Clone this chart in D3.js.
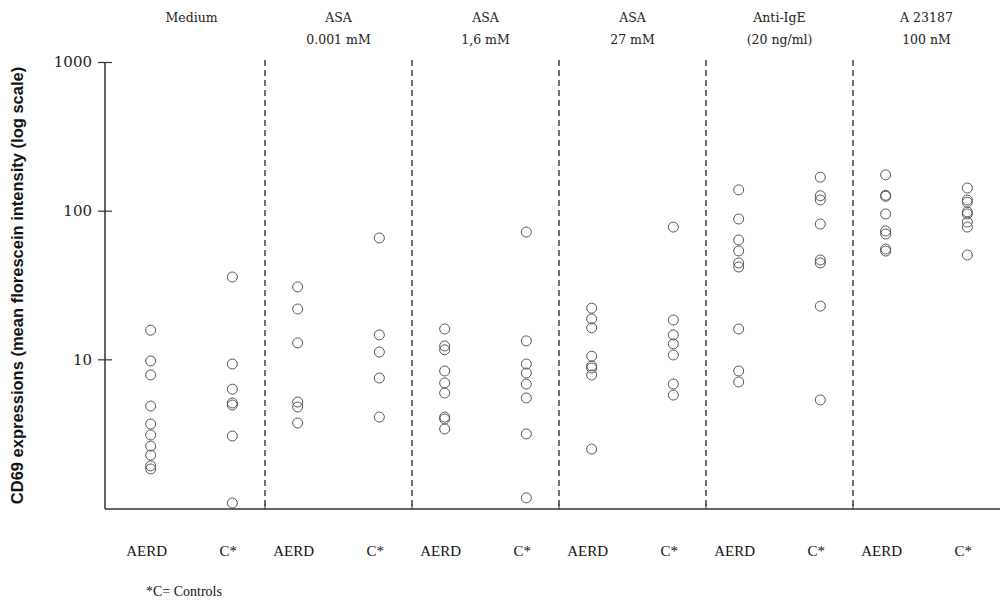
<!DOCTYPE html>
<html>
<head>
<meta charset="utf-8">
<script src="https://cdn.jsdelivr.net/npm/d3@7"></script>
<style>
  body { margin: 0; background: #fff; }
  svg { display: block; }
</style>
</head>
<body>
<div id="canvas"></div>
<script>
// conditions (columns) and the two lines of each header
const groups = ["Medium", "ASA 0.001", "ASA 1,6", "ASA 27", "Anti-IgE", "A 23187"];
const headers = [
    ["Medium"],
    ["ASA", "0.001 mM"],
    ["ASA", "1,6 mM"],
    ["ASA", "27 mM"],
    ["Anti-IgE", "(20 ng/ml)"],
    ["A 23187", "100 nM"]
];
const subjects = ["AERD", "C*"];
const subjectLabels = ["AERD", "C*"];

// CD69 mean fluorescence
const aerd = [
    [15.7, 9.75, 7.85, 4.85, 3.67, 3.1, 2.61, 2.27, 1.92, 1.83],
    [30.7, 21.8, 12.9, 5.16, 4.78, 3.73],
    [16.0, 12.3, 11.6, 8.35, 6.94, 5.94, 4.09, 3.97, 3.4],
    [22.1, 18.7, 16.3, 10.5, 9.02, 8.74, 7.85, 2.49],
    [138, 87.9, 63.5, 53.6, 44.5, 41.8, 16.0, 8.35, 7.04],
    [174, 127, 125, 95, 73, 69.7, 55.2, 53.5]
];
const controls = [
    [35.8, 9.3, 6.3, 5.09, 4.93, 3.05, 1.08],
    [65.5, 14.6, 11.2, 7.49, 4.09],
    [71.8, 13.3, 9.3, 8.09, 6.82, 5.5, 3.15, 1.17],
    [77.6, 18.4, 14.6, 12.7, 10.7, 6.82, 5.75],
    [168, 126, 118, 81.3, 46.6, 44.5, 22.8, 5.33],
    [142, 118, 114, 98, 95, 83.9, 77.6, 50.3]
];
const yTicks = [10, 100, 1000];

const width = 1003, height = 606;
const margin = { top: 62, left: 105, bottom: 97, right: 3 };

const svg = d3.select("#canvas").append("svg")
    .attr("width", width)
    .attr("height", height);

const y = d3.scaleLog()
    .domain([1, 1000])
    .range([height - margin.bottom - 1, margin.top]);

const x = d3.scaleBand()
    .domain(groups)
    .range([118, width - margin.right])
    .padding(0);

const xi = d3.scalePoint()
    .domain(subjects)
    .range([0, x.bandwidth()])
    .padding(0.4);

const baseY = height - margin.bottom;
const ink = "#333";

// dashed separators between conditions
svg.append("g").selectAll("line")
    .data(groups.slice(1))
    .enter().append("line")
    .attr("x1", d => x(d)).attr("x2", d => x(d))
    .attr("y1", margin.top - 2).attr("y2", baseY)
    .attr("stroke", "#222")
    .attr("stroke-width", 1.3)
    .attr("stroke-dasharray", "6,4");

// small ticks on the x axis at the separators
svg.append("g").selectAll("line")
    .data(groups.slice(1))
    .enter().append("line")
    .attr("x1", d => x(d)).attr("x2", d => x(d))
    .attr("y1", baseY - 5).attr("y2", baseY)
    .attr("stroke", ink)
    .attr("stroke-width", 1);

// x axis line
svg.append("line")
    .attr("x1", margin.left).attr("x2", width - margin.right)
    .attr("y1", baseY).attr("y2", baseY)
    .attr("stroke", ink).attr("stroke-width", 1.5);

// y axis
const yAxis = svg.append("g")
    .attr("transform", `translate(${margin.left},0)`)
    .call(d3.axisLeft(y).tickValues(yTicks).tickFormat(d3.format("d")).tickSize(7).tickPadding(6));
yAxis.select(".domain").remove();
yAxis.append("line")
    .attr("x1", 0).attr("x2", 0)
    .attr("y1", y(1000)).attr("y2", baseY)
    .attr("stroke", ink).attr("stroke-width", 1.5);
yAxis.selectAll(".tick line")
    .attr("x1", 7).attr("x2", -7)
    .attr("stroke", ink).attr("stroke-width", 1.2);
yAxis.selectAll(".tick text")
    .attr("font-family", "'DejaVu Serif', serif")
    .attr("font-size", 15)
    .attr("fill", "#222");

// y axis title
svg.append("text")
    .attr("transform", `translate(23,${(margin.top + baseY) / 2}) rotate(-90)`)
    .attr("text-anchor", "middle")
    .attr("font-family", "'Liberation Sans', Arial, sans-serif")
    .attr("font-weight", "bold")
    .attr("font-size", 16.5)
    .attr("fill", "#111")
    .text("CD69 expressions (mean florescein intensity (log scale)");

// headers
const head = svg.append("g").selectAll("text")
    .data(groups)
    .enter().append("text")
    .attr("x", d => x(d) + x.bandwidth() / 2)
    .attr("text-anchor", "middle")
    .attr("font-family", "'DejaVu Serif', serif")
    .attr("font-size", 12.5)
    .attr("fill", "#222");
head.each(function (d, i) {
    d3.select(this).selectAll("tspan")
        .data(headers[i])
        .enter().append("tspan")
        .attr("x", x(d) + x.bandwidth() / 2)
        .attr("y", (t, j) => 22 + j * 22)
        .text(t => t);
});

// points
const series = [aerd, controls];
subjects.forEach((s, si) => {
    groups.forEach((g, gi) => {
        svg.append("g").selectAll("circle")
            .data(series[si][gi])
            .enter().append("circle")
            .attr("cx", x(g) + xi(s))
            .attr("cy", d => y(d))
            .attr("r", 5)
            .attr("fill", "none")
            .attr("stroke", "#555")
            .attr("stroke-width", 1);
    });
});

// subject labels under the axis
groups.forEach(g => {
    svg.append("g").selectAll("text")
        .data(subjects)
        .enter().append("text")
        .attr("x", s => x(g) + xi(s) - 4)
        .attr("y", 556)
        .attr("text-anchor", "middle")
        .attr("font-family", "'Liberation Serif', 'Times New Roman', serif")
        .attr("font-size", 15)
        .attr("fill", "#111")
        .text((s, i) => subjectLabels[i]);
});

svg.append("text")
    .attr("x", 146)
    .attr("y", 596)
    .attr("font-family", "'Liberation Serif', 'Times New Roman', serif")
    .attr("font-size", 14)
    .attr("fill", "#111")
    .text("*C= Controls");
</script>
</body>
</html>
